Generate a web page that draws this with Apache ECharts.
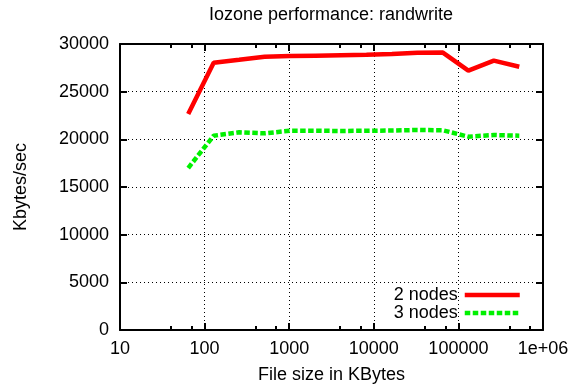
<!DOCTYPE html>
<html>
<head>
<meta charset="utf-8">
<script src="https://cdn.jsdelivr.net/npm/echarts@6/dist/echarts.min.js"></script>
<style>
html, body { margin: 0; padding: 0; background: #fff; }
#chart { width: 584px; height: 390px; }
</style>
</head>
<body>
<div id="chart"></div>
<script>
// file sizes in KBytes (iozone test sizes)
var fileSizes = [64, 128, 256, 512, 1024, 2048, 4096, 8192, 16384, 32768, 65536, 131072, 262144, 524288];
// throughput, Kbytes/sec
var twoNodes = [22650, 28040, 28350, 28670, 28740, 28780, 28820, 28860, 28950, 29090, 29100, 27200, 28250, 27620];
var threeNodes = [16990, 20380, 20740, 20630, 20900, 20900, 20880, 20900, 20920, 20980, 20950, 20280, 20450, 20380];
var seriesNames = ['2 nodes', '3 nodes'];

function pairs(xs, ys) {
    var out = [];
    for (var i = 0; i < xs.length; i++) {
        out.push([xs[i], ys[i]]);
    }
    return out;
}

var chart = echarts.init(document.getElementById('chart'), null, { renderer: 'canvas' });

var font = 'Liberation Sans, Arial, Helvetica, sans-serif';
var fs = 18;
var red = '#ff0000';
var green = '#00f000';
var redLine = { color: red, width: 4.5 };
var greenLine = { color: green, width: 4.5, type: [5.5, 2.5] };
var frame = { show: true, onZero: false, lineStyle: { color: '#000', width: 2 } };
var grid = { show: true, lineStyle: { color: '#000', type: [1, 3], width: 1 } };
var tick = { show: true, inside: true, length: 7, lineStyle: { color: '#000', width: 2 } };
var minor = { show: true, splitNumber: 3, length: 4, lineStyle: { color: '#000', width: 2 } };

var option = {
    animation: false,
    backgroundColor: '#fff',
    textStyle: { fontFamily: font },
    title: {
        text: 'Iozone performance: randwrite',
        left: 331,
        textAlign: 'center',
        top: 6,
        padding: 0,
        textStyle: { fontSize: fs, fontWeight: 'normal', color: '#000', fontFamily: font }
    },
    grid: { left: 120, right: 41, top: 44, bottom: 60 },
    legend: {
        right: 62,
        bottom: 68,
        padding: 0,
        orient: 'vertical',
        align: 'right',
        itemGap: 0,
        itemWidth: 55,
        itemHeight: 14,
        textStyle: { fontSize: fs, color: '#000', fontFamily: font, padding: [0, 2, 0, 0] },
        itemStyle: { opacity: 0 },
        data: [
            { name: seriesNames[0], lineStyle: redLine },
            { name: seriesNames[1], lineStyle: greenLine }
        ]
    },
    xAxis: [{
        type: 'log',
        logBase: 10,
        min: 10,
        max: 1000000,
        position: 'bottom',
        name: 'File size in KBytes',
        nameLocation: 'middle',
        nameGap: 36,
        nameTextStyle: { fontSize: fs, color: '#000', fontFamily: font },
        axisLine: frame,
        axisTick: tick,
        minorTick: minor,
        splitLine: grid,
        axisLabel: {
            fontSize: fs, color: '#000', margin: 10, fontFamily: font,
            formatter: function (v) {
                if (v >= 1000000) return '1e+06';
                return String(Math.round(v));
            }
        }
    }, {
        type: 'log',
        logBase: 10,
        min: 10,
        max: 1000000,
        position: 'top',
        axisLine: frame,
        axisTick: tick,
        minorTick: minor,
        splitLine: { show: false },
        axisLabel: { show: false }
    }],
    yAxis: [{
        type: 'value',
        min: 0,
        max: 30000,
        interval: 5000,
        position: 'left',
        name: 'Kbytes/sec',
        nameLocation: 'middle',
        nameGap: 90,
        nameTextStyle: { fontSize: fs, color: '#000', fontFamily: font },
        axisLine: frame,
        axisTick: tick,
        splitLine: grid,
        axisLabel: {
            fontSize: fs, color: '#000', margin: 11, fontFamily: font,
            formatter: function (v) { return String(v); }
        }
    }, {
        type: 'value',
        min: 0,
        max: 30000,
        interval: 5000,
        position: 'right',
        axisLine: frame,
        axisTick: tick,
        splitLine: { show: false },
        axisLabel: { show: false }
    }],
    series: [{
        name: seriesNames[0],
        type: 'line',
        xAxisIndex: 0,
        yAxisIndex: 0,
        symbol: 'none',
        color: red,
        lineStyle: redLine,
        data: pairs(fileSizes, twoNodes)
    }, {
        name: seriesNames[1],
        type: 'line',
        xAxisIndex: 0,
        yAxisIndex: 0,
        symbol: 'none',
        color: green,
        lineStyle: greenLine,
        data: pairs(fileSizes, threeNodes)
    }]
};

chart.setOption(option);
</script>
</body>
</html>
